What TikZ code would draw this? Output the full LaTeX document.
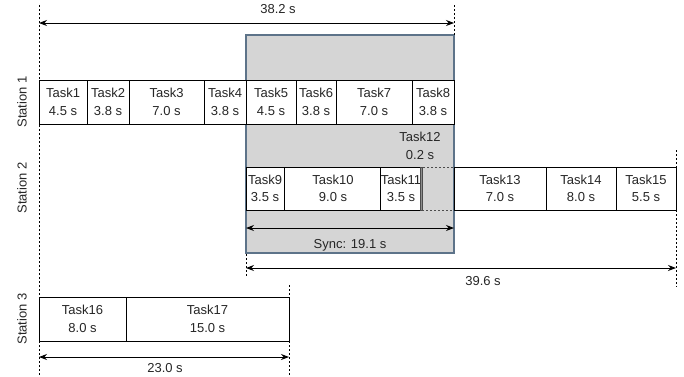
\documentclass[tikz,border=0pt]{standalone}
\usepackage{fontspec}
\setmainfont{Liberation Sans}
\usetikzlibrary{arrows.meta,calc}
\definecolor{syncfill}{HTML}{D5D5D5}
\definecolor{syncline}{HTML}{5D7389}
\tikzset{
  lbl/.style={font=\fontsize{13}{17.5}\selectfont, inner sep=0pt, align=center, text=black!85},
  guide/.style={line width=0.8pt, dash pattern=on 2pt off 2pt},
  dim/.style={line width=0.9pt, {Stealth[length=8pt,width=6pt]}-{Stealth[length=8pt,width=6pt]}},
  syncbox/.style={fill=syncfill, draw=syncline, line width=1.6pt},
}
% task box from x1 to x2, y1 to y2 (pixel units), name, text
\newcommand\taskbox[6]{%
  \node[draw=black, line width=0.9pt, fill=white, lbl, minimum width={#3-#2}, minimum height={#5-#4}]
    (#1) at ({(#2+#3)/2},{(#4+#5)/2}) {#6};}
\begin{document}
\begin{tikzpicture}[x=1pt,y=-1pt]
\useasboundingbox (0,0) rectangle (684,376);

% synchronisation window
\node[syncbox, minimum width=208, minimum height=218, inner sep=0pt] (sync) at (350,144) {};

% guide lines
\coordinate (g0t) at (39,5);   \coordinate (g0b) at (39,376);
\coordinate (g1t) at (454,5);  \coordinate (g1b) at (454,35);
\coordinate (g2t) at (246,254);\coordinate (g2b) at (246,276);
\coordinate (g3t) at (676,150);\coordinate (g3b) at (676,287);
\coordinate (g4t) at (289,285);\coordinate (g4b) at (289,376);
\foreach \a/\b in {g0t/g0b,g1t/g1b,g2t/g2b,g3t/g3b,g4t/g4b}
  \draw[guide] (\a) -- (\b);

% station labels
\node[lbl, rotate=90] (st1) at (22,102) {Station 1};
\node[lbl, rotate=90] (st2) at (22,188) {Station 2};
\node[lbl, rotate=90] (st3) at (22,319) {Station 3};

% station 1
\taskbox{t1}{39}{87}{80}{124}{Task1\\4.5 s}
\taskbox{t2}{87}{129}{80}{124}{Task2\\3.8 s}
\taskbox{t3}{129}{204}{80}{124}{Task3\\7.0 s}
\taskbox{t4}{204}{246}{80}{124}{Task4\\3.8 s}
\taskbox{t5}{246}{296}{80}{124}{Task5\\4.5 s}
\taskbox{t6}{296}{336}{80}{124}{Task6\\3.8 s}
\taskbox{t7}{336}{412}{80}{124}{Task7\\7.0 s}
\taskbox{t8}{412}{454}{80}{124}{Task8\\3.8 s}

% station 2
\taskbox{t9}{246}{284}{167}{210}{Task9\\3.5 s}
\taskbox{t10}{284}{382}{167}{210}{Task10\\9.0 s}
\taskbox{t11}{382}{420}{167}{210}{Task11\\3.5 s}
\node[draw=black!70, fill=black!45, line width=0.6pt, minimum width=2, minimum height=43, inner sep=0pt] (t12) at (421,188.5) {};
\node[lbl] (t12l) at (420,146) {Task12\\0.2 s};
\node[draw=black!70, guide, minimum width=32, minimum height=43, inner sep=0pt] (idle) at (438,188.5) {};
\taskbox{t13}{454}{546}{167}{210}{Task13\\7.0 s}
\taskbox{t14}{546}{616}{167}{210}{Task14\\8.0 s}
\taskbox{t15}{616}{676}{167}{210}{Task15\\5.5 s}

% station 3
\taskbox{t16}{39}{126}{297}{341}{Task16\\8.0 s}
\taskbox{t17}{126}{289}{297}{341}{Task17\\15.0 s}

% dimension arrows
\coordinate (a1l) at (39,23);   \coordinate (a1r) at (454,23);
\coordinate (a2l) at (246,228); \coordinate (a2r) at (454,228);
\coordinate (a3l) at (246,268); \coordinate (a3r) at (676,268);
\coordinate (a4l) at (39,357);  \coordinate (a4r) at (289,357);
\draw[dim] (a1l) -- (a1r);
\draw[dim] (a2l) -- (a2r);
\draw[dim] (a3l) -- (a3r);
\draw[dim] (a4l) -- (a4r);
\node[lbl] (d1) at (278,9) {38.2 s};
\node[lbl] (d2) at (350,245) {Sync: 19.1 s};
\node[lbl] (d3) at (483,281) {39.6 s};
\node[lbl] (d4) at (165,368) {23.0 s};
\end{tikzpicture}
\end{document}
